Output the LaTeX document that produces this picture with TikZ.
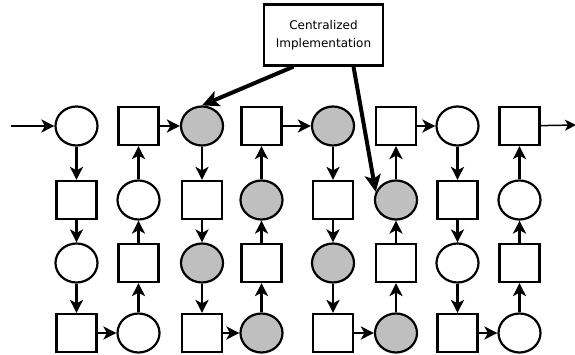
\documentclass[tikz,border=0pt]{standalone}
\usepackage{fontspec}
\newfontfamily\dvs{DejaVu Sans}
\usetikzlibrary{shapes.geometric,arrows.meta}
\definecolor{placegrey}{RGB}{191,191,191}
\begin{document}
\begin{tikzpicture}[x=1pt,y=-1pt,
  pl/.style={ellipse,draw,line width=2.2pt,minimum width=42pt,minimum height=39pt,inner sep=0pt},
  gpl/.style={pl,fill=placegrey},
  tr/.style={rectangle,draw,line width=2.2pt,minimum width=40pt,minimum height=38pt,inner sep=0pt},
  arr/.style={line width=2.2pt,-{Stealth[length=13pt,width=13pt,inset=3.5pt]}},
  bigarr/.style={line width=4pt,-{Stealth[length=17pt,width=16pt,inset=4pt]}},
  exitarr/.style={line width=1.5pt,-{Stealth[length=11pt,width=11pt,inset=3pt]}},
  cbox/.style={rectangle,draw,line width=2.2pt,minimum width=119pt,minimum height=61pt,align=center,font=\dvs\fontsize{12}{18}\selectfont}
]
\useasboundingbox (0,0) rectangle (575,355);
% columns x: 76.5,138.5,202,261.5,333,396,457.5,519.5 ; rows y: 126,200,263,333
% column 1
\node[pl]  (n11) at (76.5,126) {};
\node[tr]  (n12) at (76.5,200) {};
\node[pl]  (n13) at (76.5,263) {};
\node[tr]  (n14) at (76.5,333) {};
% column 2
\node[tr]  (n21) at (138.5,126) {};
\node[pl]  (n22) at (138.5,200) {};
\node[tr]  (n23) at (138.5,263) {};
\node[pl]  (n24) at (138.5,333) {};
% column 3
\node[gpl] (n31) at (202,126) {};
\node[tr]  (n32) at (202,200) {};
\node[gpl] (n33) at (202,263) {};
\node[tr]  (n34) at (202,333) {};
% column 4
\node[tr]  (n41) at (261.5,126) {};
\node[gpl] (n42) at (261.5,200) {};
\node[tr]  (n43) at (261.5,263) {};
\node[gpl] (n44) at (261.5,333) {};
% column 5
\node[gpl] (n51) at (333,126) {};
\node[tr]  (n52) at (333,200) {};
\node[gpl] (n53) at (333,263) {};
\node[tr]  (n54) at (333,333) {};
% column 6
\node[tr]  (n61) at (396,126) {};
\node[gpl] (n62) at (396,200) {};
\node[tr]  (n63) at (396,263) {};
\node[gpl] (n64) at (396,333) {};
% column 7
\node[pl]  (n71) at (457.5,126) {};
\node[tr]  (n72) at (457.5,200) {};
\node[pl]  (n73) at (457.5,263) {};
\node[tr]  (n74) at (457.5,333) {};
% column 8
\node[tr]  (n81) at (519.5,126) {};
\node[pl]  (n82) at (519.5,200) {};
\node[tr]  (n83) at (519.5,263) {};
\node[pl]  (n84) at (519.5,333) {};
% central box
\node[cbox] (box) at (323.5,35) {Centralized\\Implementation};
% entry / exit
\coordinate (in) at (11,126);
\coordinate (out) at (576,125);
\draw[arr] (in) -- (n11);
\draw[exitarr] (n81) -- (out);
% vertical: odd columns down, even columns up
\foreach \c in {1,3,5,7}{
  \draw[arr] (n\c1) -- (n\c2);
  \draw[arr] (n\c2) -- (n\c3);
  \draw[arr] (n\c3) -- (n\c4);
}
\foreach \c in {2,4,6,8}{
  \draw[arr] (n\c2) -- (n\c1);
  \draw[arr] (n\c3) -- (n\c2);
  \draw[arr] (n\c4) -- (n\c3);
}
% horizontal
\draw[arr] (n21) -- (n31);
\draw[arr] (n41) -- (n51);
\draw[arr] (n61) -- (n71);
\draw[arr] (n14) -- (n24);
\draw[arr] (n34) -- (n44);
\draw[arr] (n54) -- (n64);
\draw[arr] (n74) -- (n84);
% thick arrows from the box
\draw[bigarr] ([xshift=-30pt]box.south) -- (n31.north);
\draw[bigarr] ([xshift=30pt]box.south) -- (n62.158);
\end{tikzpicture}
\end{document}
